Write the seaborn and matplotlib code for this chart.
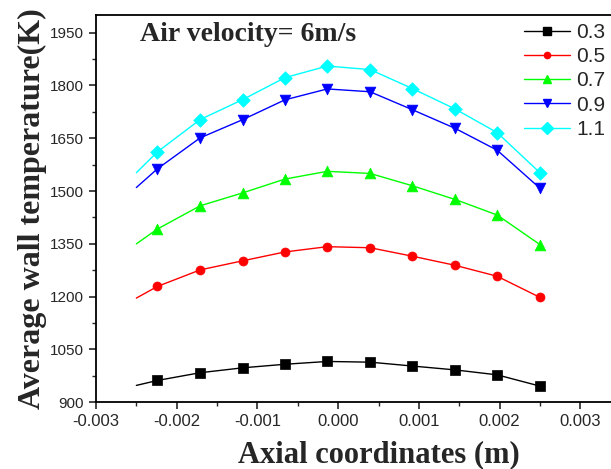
import numpy as np
import pandas as pd
import matplotlib
matplotlib.use("Agg")
import matplotlib.pyplot as plt
from matplotlib.lines import Line2D
from matplotlib.ticker import MultipleLocator, FixedLocator, FormatStrFormatter
import seaborn as sns

# axial positions (first point is the line start, no marker there)
x_pos = [-0.0025, -0.00224, -0.00171, -0.00118, -0.00066, -0.000135,
         0.000396, 0.00092, 0.00145, 0.00197, 0.0025]

t_03 = [948, 962, 984, 998, 1008, 1016, 1014, 1003, 992, 978, 946]
t_05 = [1196, 1229, 1276, 1302, 1327, 1342, 1339, 1315, 1289, 1258, 1198]
t_07 = [1350, 1392, 1458, 1495, 1534, 1556, 1550, 1515, 1476, 1432, 1348]
t_09 = [1510, 1563, 1651, 1703, 1759, 1790, 1782, 1731, 1678, 1616, 1508]
t_11 = [1552, 1611, 1703, 1760, 1822, 1855, 1845, 1791, 1733, 1666, 1552]

labels = ["0.3", "0.5", "0.7", "0.9", "1.1"]
series = [t_03, t_05, t_07, t_09, t_11]
colors = ["black", "red", "#00ff00", "blue", "cyan"]
markers = ["s", "o", "^", "v", "D"]
msizes = [42, 42, 60, 60, 48]

x_ticks = [-0.003, -0.002, -0.001, 0.0, 0.001, 0.002, 0.003]

frames = []
for lab, vals in zip(labels, series):
    frames.append(pd.DataFrame({"x": x_pos, "T": vals, "ratio": lab,
                                "idx": range(len(x_pos))}))
df = pd.concat(frames, ignore_index=True)

sns.set_style("ticks")
plt.rcParams["font.family"] = ["Liberation Sans", "DejaVu Sans"]

# axes runs past the right edge of the picture (right spine is cut off)
left, right, top, bottom = 96, 661, 15, 402.3
fig = plt.figure(figsize=(6.11, 4.69), dpi=100)
ax = fig.add_axes([left / 611, 1 - bottom / 469, (right - left) / 611, (bottom - top) / 469])

sns.lineplot(data=df, x="x", y="T", hue="ratio", palette=colors,
             sort=False, estimator=None, linewidth=1.0, legend=False, ax=ax)
for lab, c, m, s in zip(labels, colors, markers, msizes):
    sub = df[(df["ratio"] == lab) & (df["idx"] > 0)]
    sns.scatterplot(data=sub, x="x", y="T", color=c, marker=m, s=s,
                    edgecolor=c, linewidth=0.5, legend=False, ax=ax, zorder=3)

ax.set_xlim(-0.003, 0.004)
ax.set_ylim(900, 2000)
ax.xaxis.set_major_locator(FixedLocator(x_ticks))
ax.xaxis.set_minor_locator(MultipleLocator(0.0005))
ax.xaxis.set_major_formatter(FormatStrFormatter("%.3f"))
ax.yaxis.set_major_locator(MultipleLocator(150))
ax.yaxis.set_minor_locator(MultipleLocator(75))
ax.tick_params(which="major", direction="out", length=5, width=1.2)
ax.tick_params(axis="x", labelsize=12)
ax.tick_params(axis="y", labelsize=11)
ax.tick_params(which="minor", direction="out", length=3, width=1.0)
for sp in ax.spines.values():
    sp.set_linewidth(1.3)
    sp.set_color("black")
ax.spines["right"].set_visible(False)

serif = ["Liberation Serif", "DejaVu Serif"]
ax.set_xlabel("Axial coordinates (m)", family=serif, fontweight="bold",
              fontsize=22, labelpad=8)
ax.set_ylabel("Average wall temperature(K)", family=serif, fontweight="bold",
              fontsize=23, labelpad=2)
ax.text((140 - left) / (right - left), 1 - (22 - top) / (bottom - top),
        "Air velocity= 6m/s", transform=ax.transAxes,
        family=serif, fontweight="bold", fontsize=20, va="top", ha="left")

handles = [Line2D([], [], color=c, marker=m, markersize=6 if m != "o" else 4.5,
                  linewidth=1.0) for c, m in zip(colors, markers)]
leg = ax.legend(handles, labels, loc="upper left",
                bbox_to_anchor=((524 - left) / (right - left), 1 - (23 - top) / (bottom - top)),
                frameon=False, fontsize=15, handlelength=2.2, handletextpad=0.3,
                labelspacing=0.25, borderaxespad=0, borderpad=0)

fig.savefig("out.png", dpi=100)
